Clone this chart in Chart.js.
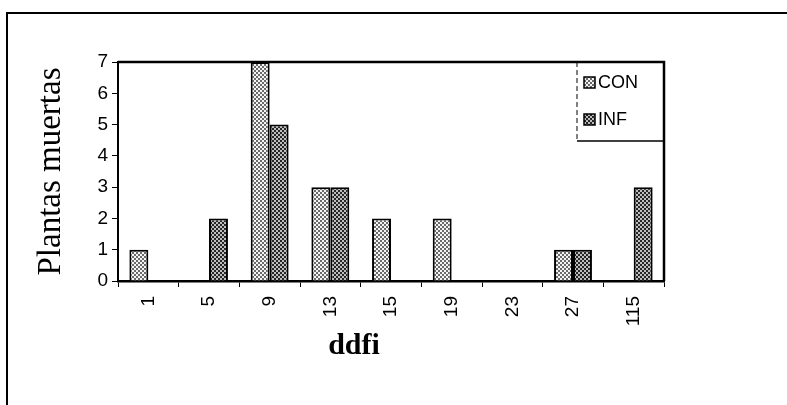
<!DOCTYPE html>
<html lang="es">
<head>
    <meta charset="UTF-8">
    <title>Plantas muertas por ddfi</title>
    <script src="https://cdn.jsdelivr.net/npm/chart.js"></script>
    <style>
        html, body {
            margin: 0;
            padding: 0;
            background: #fff;
        }
        #wrap {
            width: 787px;
            height: 405px;
        }
    </style>
</head>
<body>
    <div id="wrap"><canvas id="chart" width="787" height="405"></canvas></div>

    <script>
        // datos
        const ddfi = ["1", "5", "9", "13", "15", "19", "23", "27", "115"];
        const con = [1, 0, 7, 3, 2, 2, 0, 1, 0];
        const inf = [0, 2, 5, 3, 0, 0, 0, 1, 3];
        const yTicks = [0, 1, 2, 3, 4, 5, 6, 7];

        // tramas punteadas tipo escaner (cuadros de 2px)
        function makePattern(light, dark) {
            const c = document.createElement("canvas");
            c.width = 4;
            c.height = 4;
            const g = c.getContext("2d");
            g.fillStyle = light;
            g.fillRect(0, 0, 4, 4);
            g.fillStyle = dark;
            g.fillRect(0, 0, 2, 2);
            g.fillRect(2, 2, 2, 2);
            const ctx = document.getElementById("chart").getContext("2d");
            return ctx.createPattern(c, "repeat");
        }

        const conFill = makePattern("#f4f4f4", "#6a6a6a");
        const infFill = makePattern("#bdbdbd", "#262626");

        // marco, recuadro del grafico, leyenda y titulo x
        const framePlugin = {
            id: "frame",
            afterDraw(chart) {
                const ctx = chart.ctx;
                const a = chart.chartArea;
                ctx.save();
                ctx.strokeStyle = "#000";

                // marco exterior (arriba e izquierda)
                ctx.lineWidth = 2;
                ctx.beginPath();
                ctx.moveTo(7, 405);
                ctx.lineTo(7, 13);
                ctx.lineTo(787, 13);
                ctx.stroke();

                // borde superior y derecho del area
                ctx.lineWidth = 2.5;
                ctx.beginPath();
                ctx.moveTo(a.left, a.top);
                ctx.lineTo(a.right, a.top);
                ctx.lineTo(a.right, a.bottom);
                ctx.stroke();

                // leyenda
                const lx = 577, ly = a.top, lw = a.right - 577, lh = 79;
                ctx.lineWidth = 1;
                ctx.setLineDash([5, 3]);
                ctx.beginPath();
                ctx.moveTo(lx, ly);
                ctx.lineTo(lx, ly + lh);
                ctx.stroke();
                ctx.setLineDash([]);
                ctx.lineWidth = 1.5;
                ctx.beginPath();
                ctx.moveTo(lx, ly + lh);
                ctx.lineTo(lx + lw, ly + lh);
                ctx.stroke();

                ctx.font = "18px 'Liberation Sans', Arial, sans-serif";
                ctx.textBaseline = "middle";
                ctx.fillStyle = "#000";
                chart.data.datasets.forEach((ds, i) => {
                    const cy = ly + 20 + i * 37;
                    ctx.fillStyle = ds.backgroundColor;
                    ctx.fillRect(lx + 7, cy - 5, 11, 11);
                    ctx.lineWidth = 1.5;
                    ctx.strokeRect(lx + 7, cy - 5, 11, 11);
                    ctx.fillStyle = "#000";
                    ctx.fillText(ds.label, lx + 21, cy + 1);
                });

                // titulo eje x
                ctx.font = "bold 30px 'Liberation Serif', 'Times New Roman', serif";
                ctx.textAlign = "center";
                ctx.fillText("ddfi", 354, 346);
                ctx.restore();
            }
        };

        const chart = new Chart(document.getElementById("chart"), {
            type: "bar",
            data: {
                labels: ddfi,
                datasets: [
                    {
                        label: "CON",
                        data: con,
                        backgroundColor: conFill,
                        borderColor: "#000",
                        borderWidth: 2,
                        borderSkipped: "bottom"
                    },
                    {
                        label: "INF",
                        data: inf,
                        backgroundColor: infFill,
                        borderColor: "#000",
                        borderWidth: 2,
                        borderSkipped: "bottom"
                    }
                ]
            },
            options: {
                responsive: false,
                animation: false,
                layout: {
                    padding: { left: 10, top: 62, right: 123, bottom: 0 }
                },
                categoryPercentage: 0.625,
                barPercentage: 1,
                plugins: {
                    legend: { display: false },
                    tooltip: { enabled: false }
                },
                scales: {
                    x: {
                        afterFit(scale) { scale.height = 124; },
                        grid: {
                            offset: true,
                            drawOnChartArea: false,
                            tickLength: 6,
                            color: "#000",
                            lineWidth: 1
                        },
                        border: { display: true, color: "#000", width: 2.5 },
                        ticks: {
                            color: "#000",
                            minRotation: 90,
                            maxRotation: 90,
                            padding: 9,
                            font: { family: "'Liberation Sans', Arial, sans-serif", size: 19 }
                        }
                    },
                    y: {
                        min: 0,
                        max: yTicks[yTicks.length - 1],
                        afterFit(scale) { scale.width = 108; },
                        afterBuildTicks(scale) {
                            scale.ticks = yTicks.map(v => ({ value: v }));
                        },
                        grid: {
                            drawOnChartArea: false,
                            tickLength: 6,
                            color: "#000",
                            lineWidth: 1
                        },
                        border: { display: true, color: "#000", width: 2 },
                        ticks: {
                            color: "#000",
                            padding: 4,
                            font: { family: "'Liberation Sans', Arial, sans-serif", size: 19 }
                        },
                        title: {
                            display: true,
                            text: "Plantas muertas",
                            color: "#000",
                            padding: { top: 22 },
                            font: { family: "'Liberation Serif', 'Times New Roman', serif", size: 33 }
                        }
                    }
                }
            },
            plugins: [framePlugin]
        });
    </script>
</body>
</html>
